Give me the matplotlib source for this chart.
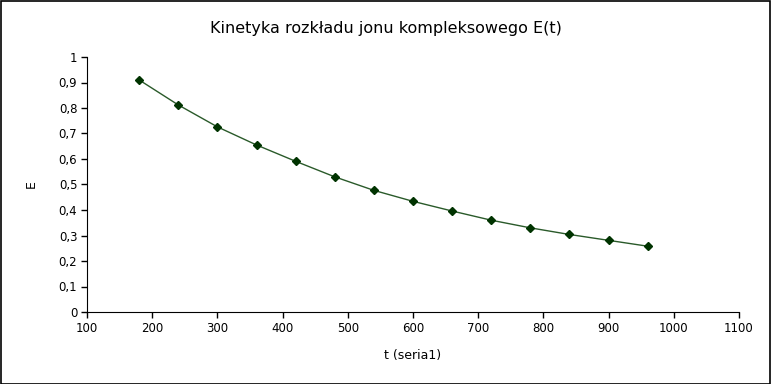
import matplotlib
matplotlib.use("Agg")
import matplotlib.pyplot as plt
from matplotlib.ticker import FuncFormatter, MultipleLocator

# data
t = [180, 240, 300, 360, 420, 480, 540, 600, 660, 720, 780, 840, 900, 960]
E = [0.91, 0.812, 0.726, 0.655, 0.591, 0.53, 0.477, 0.434, 0.396, 0.36, 0.33, 0.304, 0.281, 0.258]

fig = plt.figure(figsize=(7.71, 3.84), dpi=100)
ax = fig.add_axes([87 / 771, 72 / 384, (739 - 87) / 771, 255 / 384])

ax.plot(t, E, color="#2a5a2a", linewidth=1.0, marker="D", markersize=4.5,
        markerfacecolor="#003300", markeredgecolor="#003300")

ax.set_xlim(100, 1100)
ax.set_ylim(0, 1)
ax.xaxis.set_major_locator(MultipleLocator(100))
ax.yaxis.set_major_locator(MultipleLocator(0.1))
ax.yaxis.set_major_formatter(FuncFormatter(
    lambda v, pos: "0" if abs(v) < 1e-9 else ("1" if abs(v - 1) < 1e-9 else f"{v:.1f}".replace(".", ","))))

ax.spines["top"].set_visible(False)
ax.spines["right"].set_visible(False)
ax.tick_params(direction="out", length=4, width=1, labelsize=8.5, pad=3)

ax.set_xlabel("t (seria1)", fontsize=9, labelpad=10)
ax.set_ylabel("E", fontsize=9, labelpad=15)
fig.text(0.5, 1 - 28 / 384, "Kinetyka rozkładu jonu kompleksowego E(t)",
         ha="center", va="center", fontsize=11.5)

# black frame around the whole picture
fig.patches.append(plt.Rectangle((0.001, 0.001), 0.998, 0.997, transform=fig.transFigure,
                                 fill=False, edgecolor="black", linewidth=1.2))

fig.savefig("out.png", dpi=100)
